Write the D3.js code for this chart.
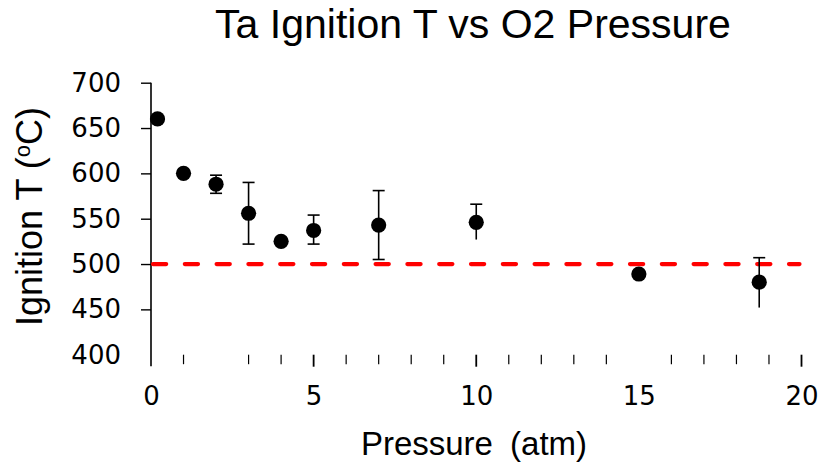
<!DOCTYPE html>
<html>
<head>
<meta charset="utf-8">
<script src="https://cdn.jsdelivr.net/npm/d3@7/dist/d3.min.js"></script>
<style>
  html, body { margin: 0; padding: 0; background: #ffffff; }
  svg { display: block; }
</style>
</head>
<body>
<svg id="chart" width="818" height="465"></svg>
<script>
// Ignition temperature of tantalum at different oxygen pressures
const pressure   = [0.2, 1, 2, 3, 4, 5, 7, 10, 15, 18.7];
const ignitionT  = [660, 600, 588, 556, 525, 537, 543, 546, 489, 480];
const errPlus    = [0, 0, 10, 34, 0, 17, 38, 20, 0, 27];
const errMinus   = [0, 0, 10, 34, 0, 15, 38, 19, 0, 28];
const lowerCap   = [false, false, true, true, false, true, true, false, false, false];
const threshold  = 500;

const yTicks      = [400, 450, 500, 550, 600, 650, 700];
const xMajorTicks = [0, 5, 10, 15, 20];
const xMinorTicks = [1, 3, 4, 6, 7, 8, 9, 11, 12, 13, 14, 16, 17, 18, 19];
const xTickMarks  = [0, 5, 10, 20];

const titleText = "Ta Ignition T vs O2 Pressure";
const xLabel = "Pressure (atm)";

const svg = d3.select("#chart");

const x = d3.scaleLinear().domain([0, 20]).range([151, 801.5]);
const y = d3.scaleLinear().domain([400, 700]).range([354.7, 82.7]);

// title
svg.append("text")
  .attr("x", 473).attr("y", 38)
  .attr("text-anchor", "middle")
  .style("font-family", "'Liberation Sans', Arial, sans-serif")
  .style("font-size", "41px")
  .attr("fill", "#000")
  .text(titleText);

// y axis: line, ticks and labels
const yAxis = d3.axisLeft(y)
  .tickValues(yTicks)
  .tickSize(10)
  .tickPadding(20)
  .tickFormat(d3.format("d"));
const yg = svg.append("g").attr("transform", `translate(${x(0)},0)`).call(yAxis);
yg.select(".domain").remove();
yg.selectAll(".tick line")
  .attr("stroke", "#000").attr("stroke-width", 1.4)
  .style("display", d => d === 400 ? "none" : null);
yg.selectAll(".tick text")
  .style("font-family", "'DejaVu Sans', Tahoma, sans-serif")
  .style("font-size", "26px")
  .attr("fill", "#000");
svg.append("line")
  .attr("x1", x(0)).attr("x2", x(0))
  .attr("y1", y(700)).attr("y2", y(400) + 11.5)
  .attr("stroke", "#000").attr("stroke-width", 1.6);

// x axis: tick labels (no axis line), major and minor tick marks
const xAxis = d3.axisBottom(x)
  .tickValues(xMajorTicks)
  .tickSize(0)
  .tickPadding(32)
  .tickFormat(d3.format("d"));
const xg = svg.append("g").attr("transform", `translate(0,${y(400)})`).call(xAxis);
xg.select(".domain").remove();
xg.selectAll(".tick text")
  .style("font-family", "'DejaVu Sans', Tahoma, sans-serif")
  .style("font-size", "26px")
  .attr("fill", "#000");

svg.append("g").selectAll("line")
  .data(xTickMarks.filter(d => d !== 0))
  .join("line")
  .attr("x1", d => x(d)).attr("x2", d => x(d))
  .attr("y1", y(400)).attr("y2", y(400) + 12)
  .attr("stroke", "#000").attr("stroke-width", 1.8);
svg.append("g").selectAll("line")
  .data(xMinorTicks)
  .join("line")
  .attr("x1", d => x(d)).attr("x2", d => x(d))
  .attr("y1", y(400)).attr("y2", y(400) + 9.5)
  .attr("stroke", "#000").attr("stroke-width", 1.2);

// axis titles
svg.append("text")
  .attr("transform", `translate(42,${216.5}) rotate(-90)`)
  .attr("text-anchor", "middle")
  .style("font-family", "'Liberation Sans', Arial, sans-serif")
  .style("font-size", "36px")
  .attr("fill", "#000")
  .call(t => {
    t.append("tspan").text("Ignition T (");
    t.append("tspan").attr("dy", -12).style("font-size", "22px").text("o");
    t.append("tspan").attr("dy", 12).text("C)");
  });

svg.append("text")
  .attr("x", 474).attr("y", 455)
  .attr("text-anchor", "middle")
  .style("font-family", "'Liberation Sans', Arial, sans-serif")
  .style("font-size", "33px")
  .style("word-spacing", "8px")
  .attr("fill", "#000")
  .text(xLabel);

// threshold line at 500 °C
svg.append("line")
  .attr("x1", x(0) + 2).attr("x2", x(20) - 2)
  .attr("y1", y(threshold)).attr("y2", y(threshold))
  .attr("stroke", "#ff0000").attr("stroke-width", 4.2)
  .attr("stroke-linecap", "round")
  .attr("stroke-dasharray", "13.2,18.6");

// error bars
const pts = pressure.map((p, i) => ({
  p, t: ignitionT[i], hi: ignitionT[i] + errPlus[i], lo: ignitionT[i] - errMinus[i],
  capLo: lowerCap[i], hasErr: errPlus[i] > 0 || errMinus[i] > 0
}));
const eb = svg.append("g").attr("stroke", "#000").attr("stroke-width", 1.6);
pts.filter(d => d.hasErr).forEach(d => {
  eb.append("line")
    .attr("x1", x(d.p)).attr("x2", x(d.p))
    .attr("y1", y(d.hi)).attr("y2", y(d.lo));
  eb.append("line")
    .attr("x1", x(d.p) - 6).attr("x2", x(d.p) + 6)
    .attr("y1", y(d.hi)).attr("y2", y(d.hi));
  if (d.capLo) {
    eb.append("line")
      .attr("x1", x(d.p) - 6).attr("x2", x(d.p) + 6)
      .attr("y1", y(d.lo)).attr("y2", y(d.lo));
  }
});

// data markers
svg.append("g").selectAll("circle")
  .data(pts)
  .join("circle")
  .attr("cx", d => x(d.p))
  .attr("cy", d => y(d.t))
  .attr("r", 7.6)
  .attr("fill", "#000");
</script>
</body>
</html>
